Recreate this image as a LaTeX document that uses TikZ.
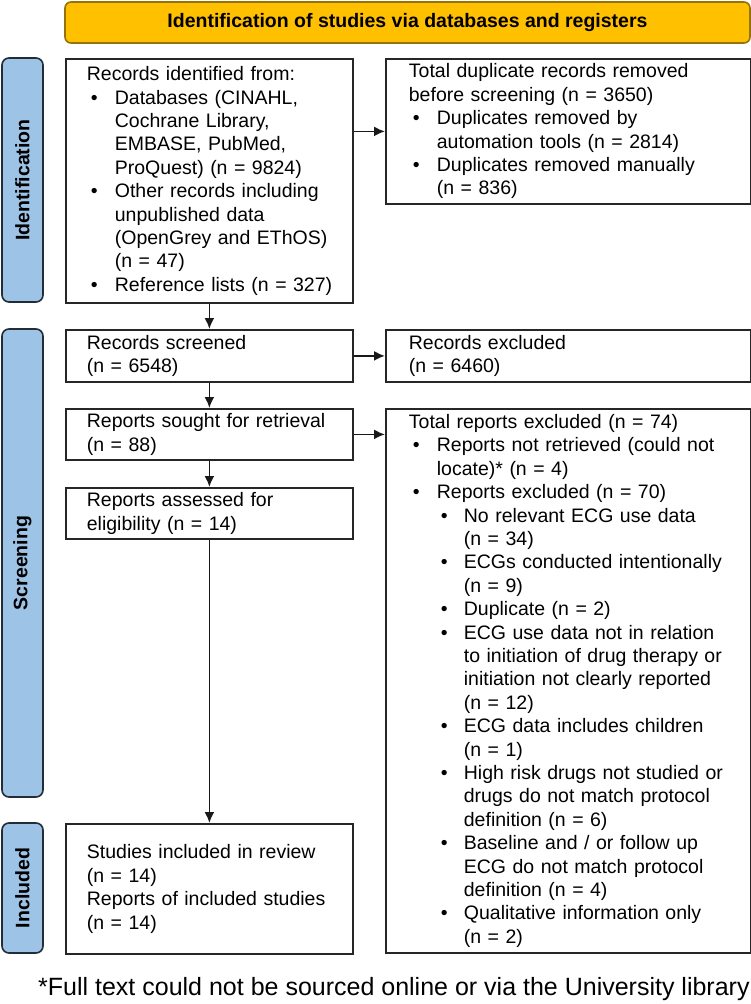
\documentclass[tikz,border=0pt]{standalone}
\usepackage{fontspec}
\setmainfont{Liberation Sans}
\usetikzlibrary{arrows.meta,positioning}

\definecolor{bannergold}{RGB}{255,192,0}
\definecolor{bannerline}{RGB}{150,115,10}
\definecolor{phaseblue}{RGB}{157,195,230}
\definecolor{phaseline}{RGB}{35,45,55}

% Bullets and hanging indents
\newcommand{\bul}{\makebox[28pt][l]{\hspace{4pt}•}}
\newcommand{\ind}{\hspace*{28pt}}
\newcommand{\subbul}{\hspace*{28pt}\makebox[27pt][l]{\hspace{4pt}•}}
\newcommand{\subind}{\hspace*{55pt}}

\tikzset{
	boxtext/.style={font=\fontsize{19.5}{23.4}\selectfont},
	flowbox/.style={draw=black!85, line width=1.8pt, boxtext, align=left, anchor=north west, inner ysep=2pt},
	leftbox/.style={flowbox, minimum width=287pt, inner xsep=21pt, text width=245pt},
	rightbox/.style={flowbox, minimum width=365pt, inner xsep=23pt, text width=319pt},
	phase/.style={draw=phaseline, fill=phaseblue, line width=1.6pt, rounded corners=7pt, rotate=90, minimum height=41pt, inner sep=0pt, font=\bfseries\fontsize{19.5}{23.4}\selectfont},
	flowarrow/.style={-{Latex[length=11pt,width=10pt]}, line width=1.8pt, draw=black!90},
}

\begin{document}
\begin{tikzpicture}[x=1pt, y=-1pt]
	\useasboundingbox (0,0) rectangle (751,1004);
	% Draw banner and phase labels
	\node[draw=bannerline, fill=bannergold, line width=1.6pt, rounded corners=6pt, minimum width=685pt, minimum height=41pt, font=\bfseries\fontsize{19.5}{23.4}\selectfont] (banner) at (407.5,22.5) {Identification of studies via databases and registers};
	\node[phase, minimum width=244pt] (identphase) at (22.5,180) {Identification};
	\node[phase, minimum width=468pt] (screenphase) at (22.5,563) {Screening};
	\node[phase, minimum width=130pt] (inclphase) at (22.5,888) {Included};
	% Draw left column
	\node[leftbox, minimum height=244pt] (identified) at (65,58) {Records identified from:\\
		\bul Databases (CINAHL,\\
		\ind Cochrane Library,\\
		\ind EMBASE, PubMed,\\
		\ind ProQuest) (n = 9824)\\
		\bul Other records including\\
		\ind unpublished data\\
		\ind (OpenGrey and EThOS)\\
		\ind (n = 47)\\
		\bul \mbox{Reference lists (n = 327)}};
	\node[leftbox, minimum height=52pt] (screened) at (65,329) {Records screened\\(n = 6548)};
	\node[leftbox, minimum height=51pt] (sought) at (65,408) {Reports sought for retrieval\\(n = 88)};
	\node[leftbox, minimum height=51pt] (assessed) at (65,487) {Reports assessed for\\eligibility (n = 14)};
	\node[leftbox, minimum height=130pt] (included) at (65,823) {Studies included in review\\(n = 14)\\Reports of included studies\\(n = 14)};
	% Draw right column
	\node[rightbox, minimum height=145pt] (duplicates) at (385,58) {Total duplicate records removed\\
		before screening (n = 3650)\\
		\bul Duplicates removed by\\
		\ind automation tools (n = 2814)\\
		\bul Duplicates removed manually\\
		\ind (n = 836)};
	\node[rightbox, minimum height=52pt] (excluded) at (385,329) {Records excluded\\(n = 6460)};
	\node[rightbox, minimum height=544pt] (reportsout) at (385,408) {Total reports excluded (n = 74)\\
		\bul Reports not retrieved (could not\\
		\ind locate)* (n = 4)\\
		\bul Reports excluded (n = 70)\\
		\subbul No relevant ECG use data\\
		\subind (n = 34)\\
		\subbul ECGs conducted intentionally\\
		\subind (n = 9)\\
		\subbul Duplicate (n = 2)\\
		\subbul ECG use data not in relation\\
		\subind to initiation of drug therapy or\\
		\subind initiation not clearly reported\\
		\subind (n = 12)\\
		\subbul ECG data includes children\\
		\subind (n = 1)\\
		\subbul High risk drugs not studied or\\
		\subind drugs do not match protocol\\
		\subind definition (n = 6)\\
		\subbul Baseline and / or follow up\\
		\subind ECG do not match protocol\\
		\subind definition (n = 4)\\
		\subbul Qualitative information only\\
		\subind (n = 2)};
	% Draw arrows
	\draw[flowarrow] (identified.east |- duplicates.west) -- (duplicates.west);
	\draw[flowarrow] (identified) -- (screened);
	\draw[flowarrow] (screened) -- (excluded);
	\draw[flowarrow] (screened) -- (sought);
	\draw[flowarrow] (sought.east) -- (reportsout.west |- sought.east);
	\draw[flowarrow] (sought) -- (assessed);
	\draw[flowarrow] (assessed) -- (included);
	% Footnote
	\node[anchor=base west, inner sep=0pt, font=\fontsize{25}{30}\selectfont] (footnote) at (38,995) {*Full text could not be sourced online or via the University library};
\end{tikzpicture}
\end{document}
